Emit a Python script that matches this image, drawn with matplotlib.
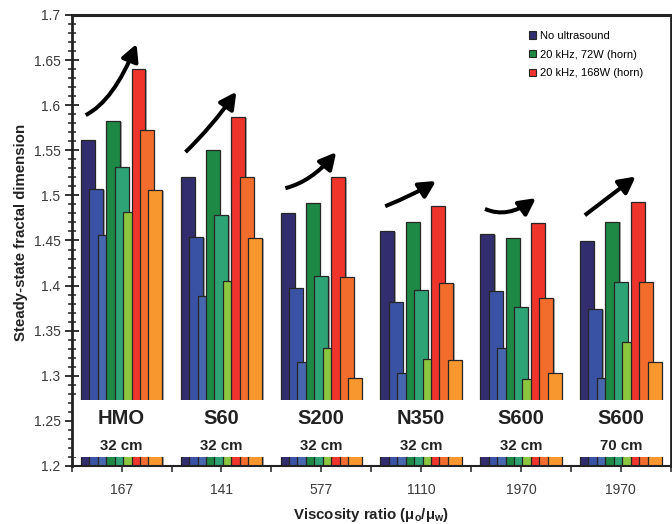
import numpy as np
import matplotlib
matplotlib.use("Agg")
import matplotlib.pyplot as plt
from matplotlib.patches import Patch, Rectangle, FancyArrowPatch
from matplotlib.ticker import MultipleLocator, FuncFormatter
import matplotlib.patheffects as pe

plt.rcParams['font.family'] = ['Liberation Sans', 'DejaVu Sans']
plt.rcParams['mathtext.fontset'] = 'custom'
plt.rcParams['mathtext.rm'] = 'Liberation Sans:bold'
plt.rcParams['mathtext.it'] = 'Liberation Sans:bold'
plt.rcParams['mathtext.bf'] = 'Liberation Sans:bold'

# ---- data ----
oils = ['HMO', 'S60', 'S200', 'N350', 'S600', 'S600']
depths = ['32 cm', '32 cm', '32 cm', '32 cm', '32 cm', '70 cm']
viscosity_ratio = ['167', '141', '577', '1110', '1970', '1970']
legend_labels = ['No ultrasound', '20 kHz, 72W (horn)', '20 kHz, 168W (horn)']

# three sub-series per condition (dark -> light shade)
no_ultrasound = [
    [1.561, 1.520, 1.480, 1.460, 1.457, 1.450],
    [1.507, 1.454, 1.397, 1.382, 1.394, 1.374],
    [1.456, 1.389, 1.315, 1.303, 1.331, 1.298],
]
horn_72W = [
    [1.582, 1.550, 1.492, 1.471, 1.453, 1.471],
    [1.532, 1.478, 1.411, 1.395, 1.376, 1.404],
    [1.482, 1.405, 1.331, 1.319, 1.297, 1.338],
]
horn_168W = [
    [1.640, 1.587, 1.520, 1.488, 1.469, 1.493],
    [1.573, 1.520, 1.409, 1.403, 1.386, 1.404],
    [1.506, 1.453, 1.298, 1.318, 1.303, 1.315],
]

# ---- styling ----
shades = [
    ['#322D6E', '#3A52A3', '#4768AE'],
    ['#1E8944', '#2EA375', '#8CC63F'],
    ['#EE342B', '#F26D2B', '#F8972D'],
]
edge = '#262626'
ink = '#3a3a3a'
# curve shape of the trend arrow over each group
arrow_shapes = [
    "angle3,angleA=27,angleB=68",
    "angle3,angleA=44,angleB=55",
    "angle3,angleA=14,angleB=50",
    "angle3,angleA=22,angleB=32",
    "angle3,angleA=-24,angleB=36",
    "arc3,rad=0.0",
]

fig = plt.figure(figsize=(6.72, 5.24), dpi=100)
W, H = 672.0, 524.0
ax = fig.add_axes([71.7 / W, 1 - 466 / H, 599 / W, 451 / H])

x = np.arange(len(oils))
n_sub = 9
step = 0.0845
width = 0.14
series = [no_ultrasound, horn_72W, horn_168W]

k = 0
for cond, cols in zip(series, shades):
    for vals, col in zip(cond, cols):
        off = (k - (n_sub - 1) / 2) * step
        ax.bar(x + off, vals, width=width, color=col, edgecolor=edge,
               linewidth=0.9, zorder=1 + k * 0.05,
               path_effects=[pe.SimplePatchShadow(offset=(1.0, -0.6),
                                                  shadow_rgbFace='#888888',
                                                  alpha=0.7),
                             pe.Normal()])
        k += 1

ax.set_xlim(-0.5, len(oils) - 0.5)
ax.set_ylim(1.2, 1.7)

# white label band across the lower part of the bars
ax.add_patch(Rectangle((-0.5, 1.2096), len(oils), 0.0636, facecolor='white',
                       edgecolor='none', zorder=2.2))
for i in range(len(oils)):
    ax.text(x[i], 1.2532, oils[i], ha='center', va='center', fontsize=14.5,
            fontweight='bold', color='#222222', zorder=3)
    ax.text(x[i], 1.2227, depths[i], ha='center', va='center', fontsize=10.8,
            fontweight='bold', color='#222222', zorder=3)

# trend arrows from the no-ultrasound bar to the 168 W bar
for i in range(len(oils)):
    start = (x[i] - 0.36, no_ultrasound[0][i] + 0.028)
    end = (x[i] + 0.15, horn_168W[0][i] + 0.028)
    arr = FancyArrowPatch(start, end, connectionstyle=arrow_shapes[i],
                          arrowstyle='-|>,head_length=0.5,head_width=0.26',
                          mutation_scale=20, lw=2.9, color='black',
                          shrinkA=0, shrinkB=0, zorder=3, capstyle='butt')
    ax.add_patch(arr)

# axes, ticks
ax.yaxis.set_major_locator(MultipleLocator(0.05))
ax.yaxis.set_minor_locator(MultipleLocator(0.01))
ax.yaxis.set_major_formatter(FuncFormatter(lambda v, p: f'{v:g}'))
ax.tick_params(axis='y', which='major', direction='inout', length=10,
               width=1.3, color='#222222', labelsize=10, labelcolor=ink, pad=3)
ax.tick_params(axis='y', which='minor', direction='inout', length=6,
               width=1.1, color='#222222')
ax.set_xticks(x)
ax.set_xticklabels(viscosity_ratio)
ax.set_xticks(np.arange(-0.5, len(oils)), minor=True)
ax.tick_params(axis='x', which='both', direction='out', length=4, width=1.1,
               color='#222222', labelsize=10, labelcolor=ink, pad=8.5)

for side, lw in [('top', 2.2), ('left', 2.0), ('bottom', 1.5), ('right', 2.0)]:
    ax.spines[side].set_linewidth(lw)
    ax.spines[side].set_color('#222222')
    ax.spines[side].set_zorder(4)

fig.text(21 / W, 1 - 232 / H, 'Steady-state fractal dimension', rotation=90,
         ha='center', va='center', fontsize=10.8, fontweight='bold', color='#222222')
fig.text(371 / W, 1 - 515 / H, r'Viscosity ratio (μ$_{o}$/μ$_{w}$)',
         ha='center', va='center', fontsize=10.8, fontweight='bold', color='#222222')

handles = [Patch(facecolor=c[0], edgecolor=edge, linewidth=0.8) for c in shades]
fig.legend(handles, legend_labels, loc='upper left',
           bbox_to_anchor=(528.5 / W, 1 - 31 / H), bbox_transform=fig.transFigure,
           frameon=False, fontsize=8, handlelength=0.65, handleheight=0.65,
           handletextpad=0.35, labelspacing=0.78, borderpad=0, borderaxespad=0)

fig.savefig('out.png', dpi=100)
